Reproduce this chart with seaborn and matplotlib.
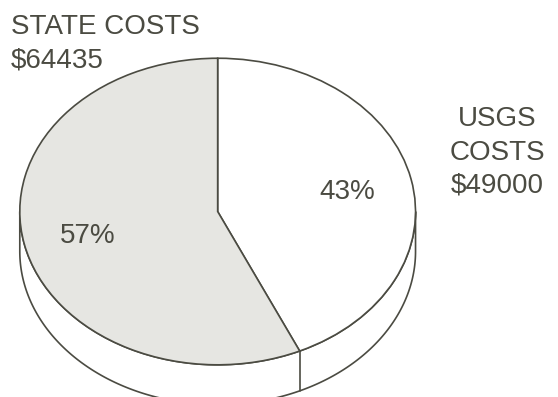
import numpy as np
import matplotlib
matplotlib.use("Agg")
import matplotlib.pyplot as plt
import seaborn as sns

# data
labels = ["USGS\nCOSTS", "STATE COSTS"]
costs = [49000, 64435]
fills = ["white", "#e6e6e2"]

ink = "#4b4b42"
depth = 0.26  # thickness of the pie "disk" in y units

sns.set_theme(style="white")
plt.rcParams["font.family"] = ["Liberation Sans", "DejaVu Sans"]

fig = plt.figure(figsize=(5.58, 3.97), dpi=100)
ax = fig.add_axes([0, 0, 1, 1])

shares = np.array(costs) / sum(costs)
boundary = np.deg2rad(90 - 360 * shares[0])

# front wall of the disk (drawn first, top face covers it)
t = np.linspace(np.pi, 2 * np.pi, 200)
xs = np.concatenate([np.cos(t), np.cos(t[::-1])])
ys = np.concatenate([np.sin(t), np.sin(t[::-1]) - depth])
ax.fill(xs, ys, facecolor="white", edgecolor=ink, linewidth=1.2, zorder=1)
ax.plot([np.cos(boundary)] * 2, [np.sin(boundary), np.sin(boundary) - depth],
        color=ink, lw=1.2, zorder=1)

# top face
wedges, _, pcts = ax.pie(costs, colors=fills, startangle=90, counterclock=False,
                         autopct="%1.0f%%", pctdistance=0.67, radius=1,
                         wedgeprops=dict(edgecolor=ink, linewidth=1.2),
                         textprops=dict(fontsize=20, color=ink))
for w in wedges:
    w.set_zorder(2)
for p in pcts:
    p.set_zorder(3)
    p.set_y(p.get_position()[1] - 0.015)

ax.set_aspect("auto")
ax.set_xlim(-1.10, 1.72)
ax.set_ylim(-1.21, 1.38)
ax.axis("off")

ax.text(-1.045, 1.095, f"{labels[1]}\n${costs[1]}", ha="left", va="center",
        fontsize=20, color=ink, linespacing=1.38)
ax.text(1.415, 0.385, f"{labels[0]}\n${costs[0]}", ha="center", va="center",
        fontsize=20, color=ink, linespacing=1.36)

fig.savefig("out.png", dpi=100)
